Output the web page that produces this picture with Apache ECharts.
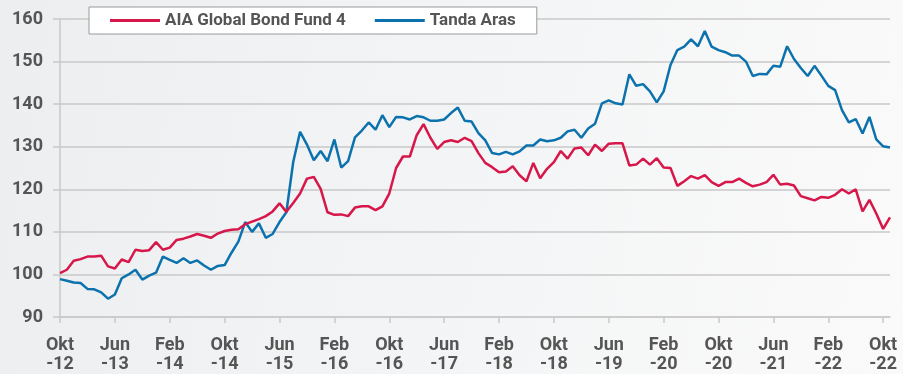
<!DOCTYPE html>
<html>
<head>
<meta charset="utf-8">
<script src="https://cdn.jsdelivr.net/npm/echarts@6/dist/echarts.min.js"></script>
<style>
  html, body { margin: 0; padding: 0; }
  body { width: 903px; height: 374px; background: linear-gradient(100deg, #eceeef 0%, #f4f5f6 55%, #fafafa 100%); }
  #chart { width: 903px; height: 374px; }
</style>
</head>
<body>
<div id="chart"></div>
<script>
// Monthly index values, Okt-12 .. Nov-22 (base 100)
const seriesNames = ['AIA Global Bond Fund 4', 'Tanda Aras'];

const fundValues = [
  100.3, 101.1, 103.2, 103.6, 104.2, 104.2, 104.4, 101.9, 101.4, 103.5,
  102.9, 105.8, 105.5, 105.7, 107.6, 105.8, 106.3, 108.1, 108.4, 108.9,
  109.5, 109.1, 108.6, 109.6, 110.2, 110.5, 110.6, 111.8, 112.4, 113.0,
  113.7, 114.8, 116.7, 114.7, 116.8, 119.0, 122.5, 122.9, 120.1, 114.6,
  114.0, 114.1, 113.7, 115.7, 116.0, 116.0, 115.1, 116.0, 119.0, 125.0,
  127.7, 127.7, 132.7, 135.3, 132.1, 129.5, 131.1, 131.5, 131.1, 132.1,
  131.3, 128.5, 126.2, 125.2, 124.0, 124.2, 125.4, 123.3, 121.9, 126.2,
  122.6, 124.8, 126.4, 129.0, 127.2, 129.6, 129.8, 128.0, 130.5, 129.0,
  130.7, 130.8, 130.8, 125.6, 125.8, 127.2, 125.8, 127.3, 125.1, 125.0,
  120.8, 121.9, 123.1, 122.5, 123.3, 121.7, 120.8, 121.7, 121.7, 122.5,
  121.5, 120.7, 121.1, 121.7, 123.4, 121.1, 121.3, 120.9, 118.4, 117.9,
  117.4, 118.2, 118.0, 118.7, 120.0, 119.0, 120.0, 114.8, 117.5, 114.3,
  110.7, 113.4
];

const tandaValues = [
  98.9, 98.5, 98.1, 98.0, 96.6, 96.5, 95.8, 94.3, 95.3, 99.1,
  100.0, 101.1, 98.8, 99.7, 100.4, 104.2, 103.4, 102.7, 103.8, 102.7,
  103.3, 102.1, 101.1, 102.0, 102.2, 105.1, 107.7, 112.3, 110.0, 112.0,
  108.6, 109.5, 112.3, 114.6, 126.4, 133.5, 130.5, 126.8, 129.0, 126.6,
  131.7, 125.1, 126.6, 132.2, 133.8, 135.7, 134.0, 137.4, 134.6, 137.0,
  136.9, 136.4, 137.2, 136.9, 136.1, 136.1, 136.4, 137.9, 139.2, 136.1,
  135.9, 133.2, 131.5, 128.5, 128.2, 128.8, 128.2, 128.9, 130.3, 130.3,
  131.7, 131.3, 131.5, 132.1, 133.6, 134.0, 132.1, 134.3, 135.4, 140.2,
  140.9, 140.2, 139.9, 147.0, 144.3, 144.7, 143.0, 140.4, 143.0, 149.2,
  152.7, 153.5, 155.2, 153.6, 157.2, 153.5, 152.7, 152.2, 151.4, 151.4,
  150.0, 146.6, 147.1, 147.0, 149.0, 148.8, 153.6, 150.6, 148.5, 146.6,
  149.0, 146.7, 144.3, 143.3, 138.6, 135.7, 136.5, 133.1, 137.0, 131.7,
  130.1, 129.8
];

// One label every 8 months, starting Okt-12
const tickLabels = [
  'Okt\n-12', 'Jun\n-13', 'Feb\n-14', 'Okt\n-14', 'Jun\n-15', 'Feb\n-16',
  'Okt\n-16', 'Jun\n-17', 'Feb\n-18', 'Okt\n-18', 'Jun\n-19', 'Feb\n-20',
  'Okt\n-20', 'Jun\n-21', 'Feb\n-22', 'Okt\n-22'
];
const monthsPerTick = 8;

const textColor = '#555555';
const gridColor = '#c9c9c9';
const fontFamily = 'Roboto, "Noto Sans", sans-serif';

const chart = echarts.init(document.getElementById('chart'), null, { renderer: 'canvas' });

const toPairs = arr => arr.map((v, i) => [i, v]);

chart.setOption({
  backgroundColor: 'transparent',
  animation: false,
  legend: {
    left: 89,
    top: 7,
    orient: 'horizontal',
    backgroundColor: '#ffffff',
    borderColor: '#9a9a9a',
    borderWidth: 1,
    borderRadius: 0,
    padding: [5, 21, 5, 21],
    itemWidth: 50,
    itemHeight: 3,
    itemGap: 29,
    icon: 'rect',
    textStyle: { color: textColor, fontSize: 17, fontWeight: 'bold', fontFamily: fontFamily },
    data: seriesNames
  },
  grid: { left: 60, right: 13, top: 19, bottom: 57, containLabel: false },
  xAxis: {
    type: 'value',
    min: 0,
    max: fundValues.length - 1,
    interval: monthsPerTick,
    axisLine: { show: true, lineStyle: { color: gridColor, width: 1.5 } },
    axisTick: { show: true, length: 6, lineStyle: { color: gridColor, width: 1.5 } },
    splitLine: { show: false },
    axisLabel: {
      color: textColor,
      fontSize: 18,
      fontWeight: 'bold',
      fontFamily: fontFamily,
      lineHeight: 19,
      margin: 19,
      showMaxLabel: false,
      formatter: v => (v % monthsPerTick === 0 ? (tickLabels[v / monthsPerTick] || '') : '')
    }
  },
  yAxis: {
    type: 'value',
    min: 90,
    max: 160,
    interval: 10,
    axisLine: { show: true, lineStyle: { color: gridColor, width: 1.5 } },
    axisTick: { show: true, length: 7, lineStyle: { color: gridColor, width: 1.5 } },
    splitLine: { show: true, lineStyle: { color: gridColor, width: 1.5 } },
    axisLabel: {
      color: textColor,
      fontSize: 18,
      fontWeight: 'bold',
      fontFamily: fontFamily,
      margin: 17
    }
  },
  series: [
    {
      name: seriesNames[0],
      type: 'line',
      data: toPairs(fundValues),
      showSymbol: false,
      symbol: 'none',
      lineStyle: { color: '#d7164a', width: 2.5 },
      itemStyle: { color: '#d7164a' },
      z: 3
    },
    {
      name: seriesNames[1],
      type: 'line',
      data: toPairs(tandaValues),
      showSymbol: false,
      symbol: 'none',
      lineStyle: { color: '#0c72ad', width: 2.5 },
      itemStyle: { color: '#0c72ad' },
      z: 2
    }
  ]
});
</script>
</body>
</html>
